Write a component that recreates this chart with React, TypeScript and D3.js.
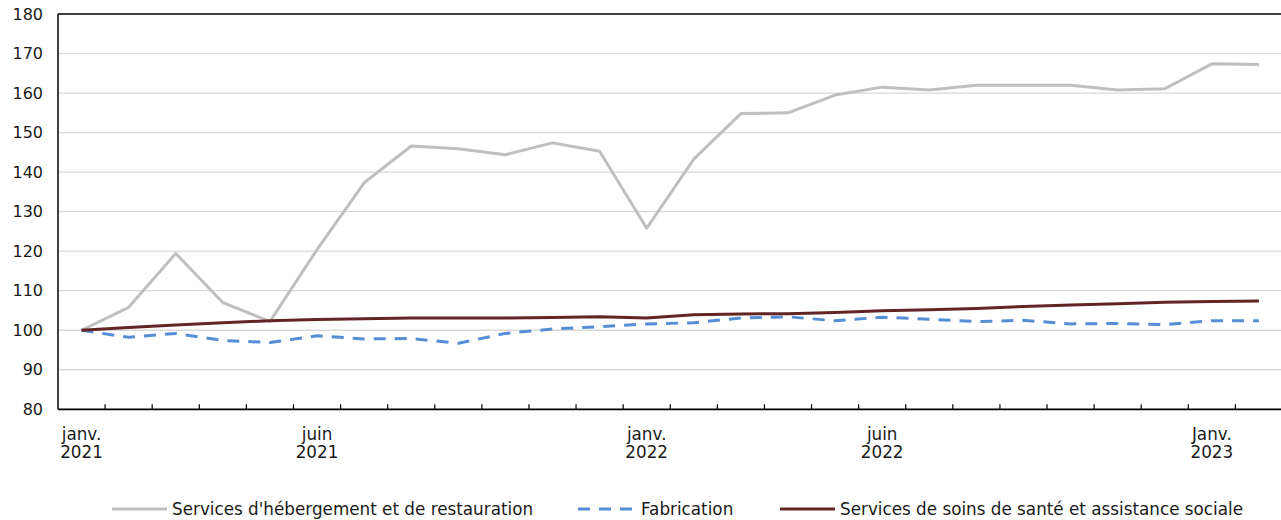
import { scaleBand, scaleLinear, line } from 'd3';

const months = [
  '2021-01', '2021-02', '2021-03', '2021-04', '2021-05', '2021-06', '2021-07', '2021-08', '2021-09',
  '2021-10', '2021-11', '2021-12', '2022-01', '2022-02', '2022-03', '2022-04', '2022-05', '2022-06',
  '2022-07', '2022-08', '2022-09', '2022-10', '2022-11', '2022-12', '2023-01', '2023-02',
];

const hebergement = [
  100, 105.8, 119.4, 107, 102.2, 120.4, 137.3, 146.6, 145.9, 144.4, 147.4, 145.3, 125.8,
  143.3, 154.8, 155, 159.5, 161.5, 160.8, 162, 162, 162, 160.8, 161.1, 167.4, 167.2,
];
const fabrication = [
  100, 98.2, 99.2, 97.4, 96.9, 98.6, 97.8, 97.9, 96.7, 99.2, 100.3, 100.9, 101.6,
  101.9, 103.1, 103.4, 102.4, 103.3, 102.8, 102.2, 102.5, 101.6, 101.7, 101.4, 102.4, 102.4,
];
const sante = [
  100, 100.7, 101.3, 101.9, 102.4, 102.7, 102.9, 103.1, 103.1, 103.1, 103.2, 103.4, 103.1,
  103.9, 104.1, 104.2, 104.5, 104.9, 105.2, 105.5, 106, 106.4, 106.7, 107.1, 107.3, 107.4,
];

const yTicks = [80, 90, 100, 110, 120, 130, 140, 150, 160, 170, 180];
const xLabels: Array<[string, string, string]> = [
  ['2021-01', 'janv.', '2021'],
  ['2021-06', 'juin', '2021'],
  ['2022-01', 'janv.', '2022'],
  ['2022-06', 'juin', '2022'],
  ['2023-01', 'Janv.', '2023'],
];

const series = [
  { name: "Services d'hébergement et de restauration", values: hebergement, color: '#bfbfbf', dash: '' },
  { name: 'Fabrication', values: fabrication, color: '#558ed5', dash: '12,9' },
  { name: 'Services de soins de santé et assistance sociale', values: sante, color: '#632523', dash: '' },
];

const legendPos = [
  { x1: 112, tx: 172 },
  { x1: 578, tx: 641 },
  { x1: 780, tx: 840 },
];

export default function App() {
  const left = 58, right = 1282.5, top = 14, bottom = 409.3;
  const x = scaleBand<string>().domain(months).range([left, right]);
  const y = scaleLinear().domain([80, 180]).range([bottom, top]);
  const cx = (m: string) => (x(m) ?? 0) + x.bandwidth() / 2;

  const font = '"DejaVu Sans", Verdana, sans-serif';

  return (
    <svg width={1281} height={520} style={{ position: 'absolute', left: 0, top: 0, background: '#fff' }}
      fontFamily={font}>
      {yTicks.map(t => (
        <g key={t}>
          {t > 80 && t < 180 && (
            <line x1={left} x2={right} y1={y(t)} y2={y(t)} stroke='#d9d9d9' strokeWidth={1.3} />
          )}
          <text x={43} y={y(t)} dy='0.35em' textAnchor='end' fontSize={16} fill='#1a1a1a'>{t}</text>
        </g>
      ))}
      <line x1={left} x2={right} y1={top} y2={top} stroke='#000' strokeWidth={1.5} />
      <line x1={left} x2={left} y1={top} y2={bottom} stroke='#000' strokeWidth={1.5} />
      {months.slice(1).map(m => (
        <line key={m} x1={x(m)} x2={x(m)} y1={bottom} y2={bottom - 5} stroke='#000' strokeWidth={1.2} />
      ))}
      <line x1={left} x2={right} y1={bottom} y2={bottom} stroke='#000' strokeWidth={1.8} />
      {xLabels.map(([m, a, b]) => (
        <g key={m}>
          <text x={cx(m)} y={440} textAnchor='middle' fontSize={16.8} fill='#1a1a1a'>{a}</text>
          <text x={cx(m)} y={458} textAnchor='middle' fontSize={16.8} fill='#1a1a1a'>{b}</text>
        </g>
      ))}
      {series.map(s => {
        const gen = line<number>().x((_, i) => cx(months[i])).y(d => y(d));
        return (
          <path key={s.name} d={gen(s.values) ?? ''} fill='none' stroke={s.color} strokeWidth={3}
            strokeDasharray={s.dash || undefined} strokeLinejoin='round' />
        );
      })}
      {series.map((s, i) => (
        <g key={s.name}>
          <line x1={legendPos[i].x1} x2={legendPos[i].x1 + 55} y1={509} y2={509} stroke={s.color}
            strokeWidth={3} strokeDasharray={s.dash || undefined} />
          <text x={legendPos[i].tx} y={509} dy='0.35em' fontSize={16.8} fill='#1a1a1a'>{s.name}</text>
        </g>
      ))}
    </svg>
  );
}
